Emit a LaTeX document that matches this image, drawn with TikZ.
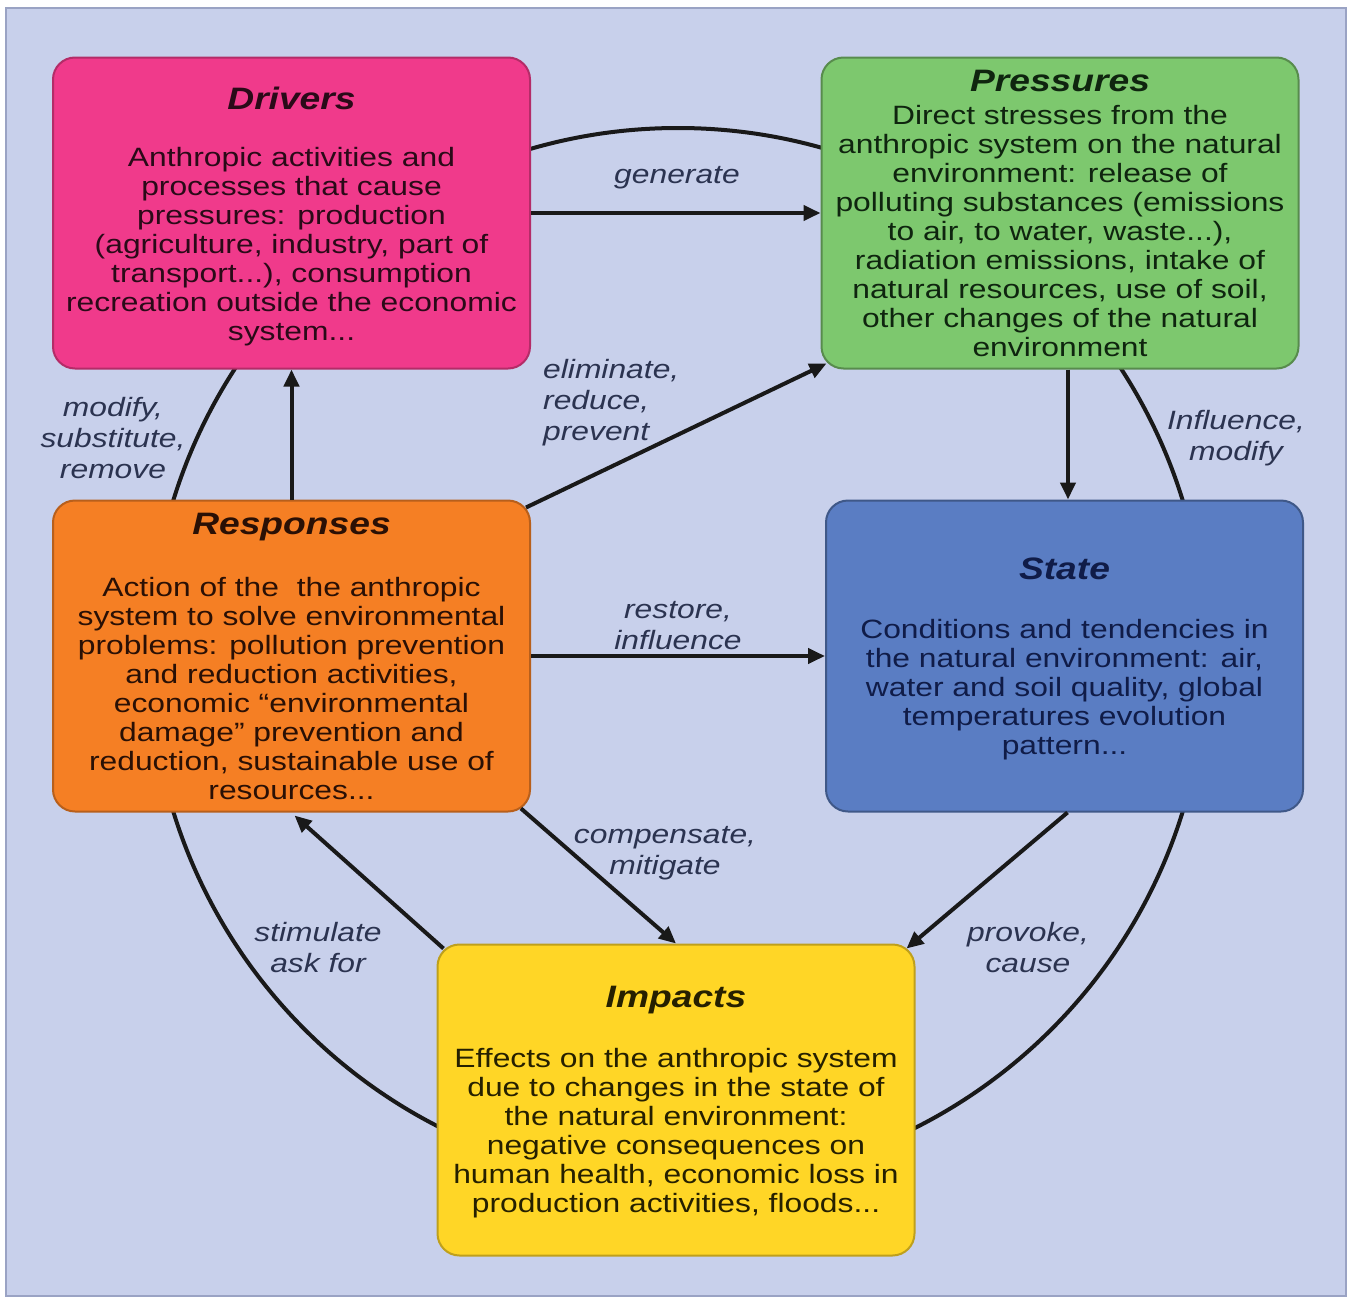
\documentclass[tikz,border=0pt]{standalone}
\usepackage{fontspec}
\setmainfont{Liberation Sans}[FakeStretch=1.2]
\usetikzlibrary{arrows.meta,calc}
\definecolor{bgc}{HTML}{C8D0EB}
\definecolor{bgline}{HTML}{9AA3C4}
\definecolor{cdrv}{HTML}{F03A8B}
\definecolor{cprs}{HTML}{7DC86E}
\definecolor{cres}{HTML}{F57F24}
\definecolor{csta}{HTML}{5A7DC3}
\definecolor{cimp}{HTML}{FFD626}
\definecolor{tdrv}{HTML}{2A0A18}
\definecolor{tprs}{HTML}{0F250F}
\definecolor{tres}{HTML}{2A1005}
\definecolor{tsta}{HTML}{101C48}
\definecolor{timp}{HTML}{262000}
\definecolor{lab}{HTML}{2B3350}
\tikzset{
  boxshape/.style={rectangle, rounded corners=22pt, minimum width=477pt, minimum height=311pt, inner sep=0pt, line width=2pt},
  boxtitle/.style={font=\fontsize{31}{31}\selectfont\bfseries\itshape, inner sep=0pt},
  boxbody/.style={font=\fontsize{26.5}{29}\selectfont, align=center, inner sep=0pt},
  lbl/.style={font=\fontsize{26.5}{31}\selectfont\itshape, text=lab, align=center, inner sep=0pt},
  conn/.style={line width=4pt, draw=black!90, -{Triangle[length=17pt,width=15pt]}},
  ring/.style={line width=4pt, draw=black!90}
}
\begin{document}
\begin{tikzpicture}[x=1pt,y=-1pt]
\fill[white] (0,0) rectangle (1352,1301);
\useasboundingbox (0,0) rectangle (1352,1301);
\draw[fill=bgc, draw=bgline, line width=1.5pt] (6,8) rectangle (1346,1296);
% ring
\draw[ring] (678,656) circle (528);
% boxes
\node[boxshape, fill=cdrv, draw=cdrv!75!black] (drv) at (291.5,213) {};
\node[boxshape, fill=cprs, draw=cprs!70!black] (prs) at (1060,213) {};
\node[boxshape, fill=cres, draw=cres!75!black] (res) at (291.5,656) {};
\node[boxshape, fill=csta, draw=csta!70!black] (sta) at (1064.5,656) {};
\node[boxshape, fill=cimp, draw=cimp!75!black] (imp) at (676,1100) {};
% titles
\node[boxtitle, text=tdrv] (drvt) at (291.5,98) {Drivers};
\node[boxtitle, text=tprs] (prst) at (1060,81) {Pressures};
\node[boxtitle, text=tres] (rest) at (291.5,527) {Responses};
\node[boxtitle, text=tsta] (stat) at (1064.5,569) {State};
\node[boxtitle, text=timp] (impt) at (676,1000) {Impacts};
% bodies
\node[boxbody, text=tdrv] (drvb) at (291.5,246.5) {Anthropic activities and\\processes that cause\\pressures: production\\(agriculture, industry, part of\\transport...), consumption\\recreation outside the economic\\system...};
\node[boxbody, text=tprs] (prsb) at (1060,231) {Direct stresses from the\\anthropic system on the natural\\environment: release of\\polluting substances (emissions\\to air, to water, waste...),\\radiation emissions, intake of\\natural resources, use of soil,\\other changes of the natural\\environment};
\node[boxbody, text=tres] (resb) at (291.5,688.5) {Action of the\ \ the anthropic\\system to solve environmental\\problems: pollution prevention\\and reduction activities,\\economic “environmental\\damage” prevention and\\reduction, sustainable use of\\resources...};
\node[boxbody, text=tsta] (stab) at (1064.5,689.5) {Conditions and tendencies in\\the natural environment: air,\\water and soil quality, global\\temperatures evolution\\pattern...};
\node[boxbody, text=timp] (impb) at (676,1133) {Effects on the anthropic system\\due to changes in the state of\\the natural environment:\\negative consequences on\\human health, economic loss in\\production activities, floods...};
% connectors
\draw[conn] (drv.east) -- (prs.west);
\draw[conn] (res.north) -- (drv.south);
\coordinate (p1) at ($(prs.south)+(8,0)$);
\draw[conn] (p1) -- (p1 |- sta.north);
\draw[conn] (res.east) -- (sta.west);
\draw[conn] ($(res.north east)+(-5,8)$) -- ($(prs.south west)+(6,-6)$);
\draw[conn] ($(res.south east)+(-10,-4)$) -- (imp.north);
\draw[conn] ($(sta.south)+(3,0)$) -- ($(imp.north east)+(-9,5)$);
\draw[conn] ($(imp.north west)+(7,5)$) -- ($(res.south)+(3,3)$);
% labels
\node[lbl] (lgen) at (677,178) {generate};
\node[lbl, align=left, anchor=west] (lelim) at (543,403) {eliminate,\\reduce,\\prevent};
\node[lbl] (lmod) at (113,438) {modify,\\substitute,\\remove};
\node[lbl] (linf) at (1236,438) {Influence,\\modify};
\node[lbl] (lres) at (678,626) {restore,\\influence};
\node[lbl] (lcomp) at (665,853) {compensate,\\mitigate};
\node[lbl] (lstim) at (318,948) {stimulate\\ask for};
\node[lbl] (lprov) at (1028,948) {provoke,\\cause};
\end{tikzpicture}
\end{document}
